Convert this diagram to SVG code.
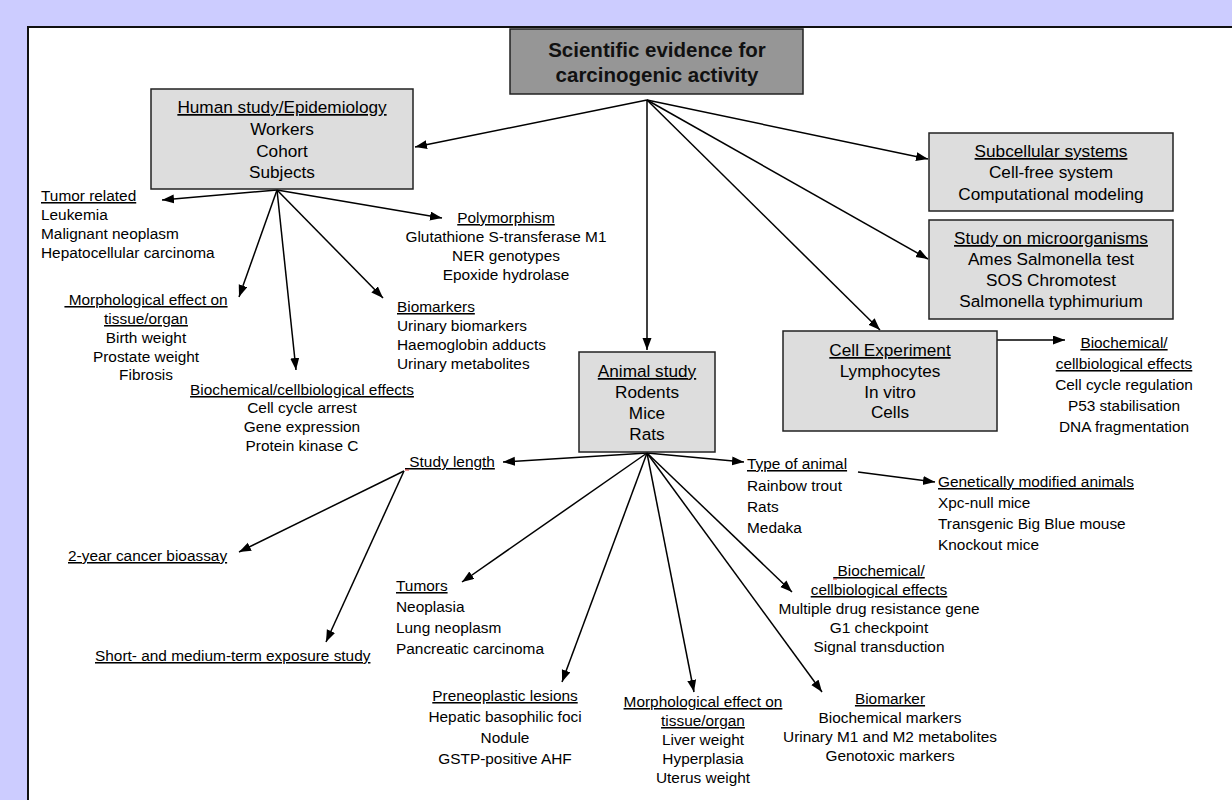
<svg xmlns="http://www.w3.org/2000/svg" width="1232" height="800" viewBox="0 0 1232 800">
<defs>
<marker id="ah" markerUnits="userSpaceOnUse" markerWidth="13" markerHeight="10" refX="12" refY="4.5" orient="auto">
<path d="M0,0 L12,4.5 L0,9 z" fill="#000"/>
</marker>
<style>
.box{fill:#dddddd;stroke:#222;stroke-width:1.5}
.title{fill:#969696;stroke:#222;stroke-width:1.5}
.bt{font-family:"Liberation Sans",Arial,sans-serif;font-size:17.2px;fill:#000;text-anchor:middle}
.tt{font-family:"Liberation Sans",Arial,sans-serif;font-size:20.5px;font-weight:bold;fill:#111;text-anchor:middle}
.t{font-family:"Liberation Sans",Arial,sans-serif;font-size:15.4px;fill:#000}
.m{text-anchor:middle}
.u{text-decoration:underline}
.c line{stroke:#000;stroke-width:1.5;marker-end:url(#ah)}
</style>
</defs>
<rect x="0" y="0" width="1232" height="800" fill="#ccccff"/>
<rect x="28" y="27" width="1220" height="800" fill="#fff" stroke="#111" stroke-width="2"/>

<g id="connectors" class="c">
<line x1="647" y1="100" x2="415" y2="147"/>
<line x1="647" y1="100" x2="647" y2="350"/>
<line x1="647" y1="100" x2="928" y2="159"/>
<line x1="647" y1="100" x2="928" y2="259"/>
<line x1="647" y1="100" x2="880" y2="330"/>
<line x1="277" y1="190" x2="162" y2="200"/>
<line x1="277" y1="190" x2="239" y2="297"/>
<line x1="277" y1="190" x2="296" y2="370"/>
<line x1="277" y1="190" x2="383" y2="298"/>
<line x1="277" y1="190" x2="442" y2="218"/>
<line x1="647" y1="453" x2="503" y2="462"/>
<line x1="647" y1="453" x2="744" y2="462"/>
<line x1="647" y1="453" x2="462" y2="582"/>
<line x1="647" y1="453" x2="562" y2="682"/>
<line x1="647" y1="453" x2="694" y2="692"/>
<line x1="647" y1="453" x2="792" y2="592"/>
<line x1="647" y1="453" x2="822" y2="692"/>
<line x1="404" y1="471" x2="239" y2="552"/>
<line x1="404" y1="471" x2="326" y2="642"/>
<line x1="858" y1="472" x2="935" y2="482"/>
<line x1="997" y1="340" x2="1065" y2="340"/>
</g>

<g id="root">
<rect class="title" x="510" y="29" width="293" height="65"/>
<text class="tt" x="657" y="57">Scientific evidence for</text>
<text class="tt" x="657" y="82">carcinogenic activity</text>
</g>

<g id="human">
<rect class="box" x="151" y="89" width="262" height="100"/>
<text class="bt u" x="282" y="113">Human study/Epidemiology</text>
<text class="bt" x="282" y="135">Workers</text>
<text class="bt" x="282" y="157">Cohort</text>
<text class="bt" x="282" y="178">Subjects</text>
</g>

<g id="subcellular">
<rect class="box" x="929" y="133" width="244" height="78"/>
<text class="bt u" x="1051" y="157">Subcellular systems</text>
<text class="bt" x="1051" y="178">Cell-free system</text>
<text class="bt" x="1051" y="200">Computational modeling</text>
</g>

<g id="microorganisms">
<rect class="box" x="929" y="220" width="244" height="99"/>
<text class="bt u" x="1051" y="244">Study on microorganisms</text>
<text class="bt" x="1051" y="265">Ames Salmonella test</text>
<text class="bt" x="1051" y="286">SOS Chromotest</text>
<text class="bt" x="1051" y="307">Salmonella typhimurium</text>
</g>

<g id="cell">
<rect class="box" x="783" y="331" width="214" height="100"/>
<text class="bt u" x="890" y="356">Cell Experiment</text>
<text class="bt" x="890" y="377">Lymphocytes</text>
<text class="bt" x="890" y="398">In vitro</text>
<text class="bt" x="890" y="418">Cells</text>
</g>

<g id="animal">
<rect class="box" x="579" y="352" width="136" height="100"/>
<text class="bt u" x="647" y="377">Animal study</text>
<text class="bt" x="647" y="398">Rodents</text>
<text class="bt" x="647" y="419">Mice</text>
<text class="bt" x="647" y="440">Rats</text>
</g>

<g id="tumor-related">
<text class="t u" x="41" y="201">Tumor related</text>
<text class="t" x="41" y="220">Leukemia</text>
<text class="t" x="41" y="239">Malignant neoplasm</text>
<text class="t" x="41" y="258">Hepatocellular carcinoma</text>
</g>

<g id="morph-human">
<text class="t m u" x="146" y="305" xml:space="preserve"> Morphological effect on</text>
<text class="t m u" x="146" y="324">tissue/organ</text>
<text class="t m" x="146" y="343">Birth weight</text>
<text class="t m" x="146" y="362">Prostate weight</text>
<text class="t m" x="146" y="380">Fibrosis</text>
</g>

<g id="biochem-human">
<text class="t m u" x="302" y="395">Biochemical/cellbiological effects</text>
<text class="t m" x="302" y="413">Cell cycle arrest</text>
<text class="t m" x="302" y="432">Gene expression</text>
<text class="t m" x="302" y="451">Protein kinase C</text>
</g>

<g id="biomarkers-human">
<text class="t u" x="397" y="312">Biomarkers</text>
<text class="t" x="397" y="331">Urinary biomarkers</text>
<text class="t" x="397" y="350">Haemoglobin adducts</text>
<text class="t" x="397" y="369">Urinary metabolites</text>
</g>

<g id="polymorphism">
<text class="t m u" x="506" y="223">Polymorphism</text>
<text class="t m" x="506" y="242">Glutathione S-transferase M1</text>
<text class="t m" x="506" y="261">NER genotypes</text>
<text class="t m" x="506" y="280">Epoxide hydrolase</text>
</g>

<g id="cell-biochem">
<text class="t m u" x="1124" y="348">Biochemical/</text>
<text class="t m u" x="1124" y="369">cellbiological effects</text>
<text class="t m" x="1124" y="390">Cell cycle regulation</text>
<text class="t m" x="1124" y="411">P53 stabilisation</text>
<text class="t m" x="1124" y="432">DNA fragmentation</text>
</g>

<g id="study-length">
<text class="t u" x="405" y="467" xml:space="preserve"> Study length</text>
<line x1="405" y1="470" x2="409" y2="470" stroke="#e03030" stroke-width="1"/>
</g>

<g id="bioassay">
<text class="t u" x="68" y="561">2-year cancer bioassay</text>
</g>

<g id="short-medium">
<text class="t u" x="95" y="661">Short- and medium-term exposure study</text>
</g>

<g id="type-animal">
<text class="t u" x="747" y="469">Type of animal</text>
<text class="t" x="747" y="491">Rainbow trout</text>
<text class="t" x="747" y="512">Rats</text>
<text class="t" x="747" y="533">Medaka</text>
</g>

<g id="gm-animals">
<text class="t u" x="938" y="487">Genetically modified animals</text>
<text class="t" x="938" y="508">Xpc-null mice</text>
<text class="t" x="938" y="529">Transgenic Big Blue mouse</text>
<text class="t" x="938" y="550">Knockout mice</text>
</g>

<g id="tumors">
<text class="t u" x="396" y="591">Tumors</text>
<text class="t" x="396" y="612">Neoplasia</text>
<text class="t" x="396" y="633">Lung neoplasm</text>
<text class="t" x="396" y="654">Pancreatic carcinoma</text>
</g>

<g id="preneoplastic">
<text class="t m u" x="505" y="701">Preneoplastic lesions</text>
<text class="t m" x="505" y="722">Hepatic basophilic foci</text>
<text class="t m" x="505" y="743">Nodule</text>
<text class="t m" x="505" y="764">GSTP-positive AHF</text>
</g>

<g id="morph-animal">
<text class="t m u" x="703" y="707">Morphological effect on</text>
<text class="t m u" x="703" y="726">tissue/organ</text>
<text class="t m" x="703" y="745">Liver weight</text>
<text class="t m" x="703" y="764">Hyperplasia</text>
<text class="t m" x="703" y="783">Uterus weight</text>
</g>

<g id="animal-biochem">
<text class="t m u" x="879" y="576" xml:space="preserve"> Biochemical/</text>
<line x1="833" y1="579" x2="837" y2="579" stroke="#e03030" stroke-width="1"/>
<text class="t m u" x="879" y="595">cellbiological effects</text>
<text class="t m" x="879" y="614">Multiple drug resistance gene</text>
<text class="t m" x="879" y="633">G1 checkpoint</text>
<text class="t m" x="879" y="652">Signal transduction</text>
</g>

<g id="biomarker-animal">
<text class="t m u" x="890" y="704">Biomarker</text>
<text class="t m" x="890" y="723">Biochemical markers</text>
<text class="t m" x="890" y="742">Urinary M1 and M2 metabolites</text>
<text class="t m" x="890" y="761">Genotoxic markers</text>
</g>
</svg>
